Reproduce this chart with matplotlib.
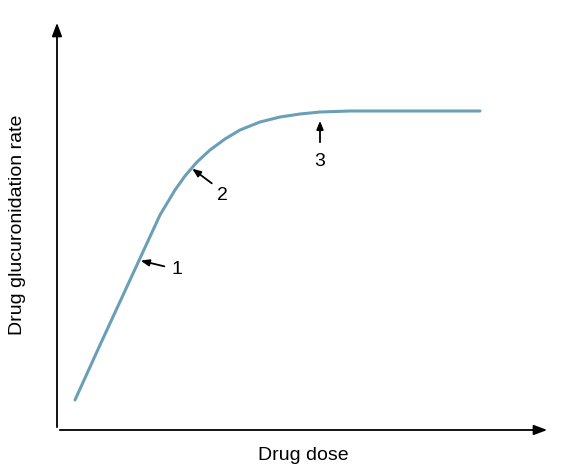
import matplotlib
matplotlib.use("Agg")
import matplotlib.pyplot as plt

plt.rcParams['font.family'] = ['Liberation Sans', 'DejaVu Sans']

# curve (arbitrary units)
dose = [18, 43, 73, 103, 118, 128, 140, 153, 168, 183, 203, 223, 243, 263, 293, 343, 423]
rate = [30, 85, 150, 215, 240, 254, 268, 280, 291, 300, 308, 313, 316, 318, 319, 319, 319]

# arrow labels: (text, tip_x, tip_y, tail_x, tail_y, text_x, text_y)
labels = [("1", 81, 170, 110, 163, 120, 160),
          ("2", 133, 263, 157, 245, 165, 235),
          ("3", 263, 312, 263, 285, 263, 268)]

W, H = 583, 475
fig = plt.figure(figsize=(W / 100, H / 100), dpi=100)
ax = fig.add_axes([57 / W, 45 / H, 493 / W, 410 / H])
ax.set_xlim(0, 493)
ax.set_ylim(0, 410)
for s in ax.spines.values():
    s.set_visible(False)
ax.set_xticks([])
ax.set_yticks([])

ax.annotate("", xy=(1, 0), xytext=(0, 0), xycoords="axes fraction",
            arrowprops=dict(arrowstyle="-|>,head_length=0.8,head_width=0.3", color="black", lw=1.3))
ax.annotate("", xy=(0, 1), xytext=(0, 0), xycoords="axes fraction",
            arrowprops=dict(arrowstyle="-|>,head_length=0.8,head_width=0.3", color="black", lw=1.3))

ax.plot(dose, rate, color="#6b9fb8", lw=2.2, solid_capstyle="round")

for txt, tx, ty, qx, qy, lx, ly in labels:
    ax.annotate("", xy=(tx, ty), xytext=(qx, qy),
                arrowprops=dict(arrowstyle="-|>,head_length=0.5,head_width=0.2", color="black", lw=1.3))
    ax.text(lx, ly, txt, fontsize=14, ha="center", va="center")

ax.set_xlabel("Drug dose", fontsize=14, labelpad=12)
ax.set_ylabel("Drug glucuronidation rate", fontsize=14, labelpad=22)

fig.savefig("out.png", dpi=100)
